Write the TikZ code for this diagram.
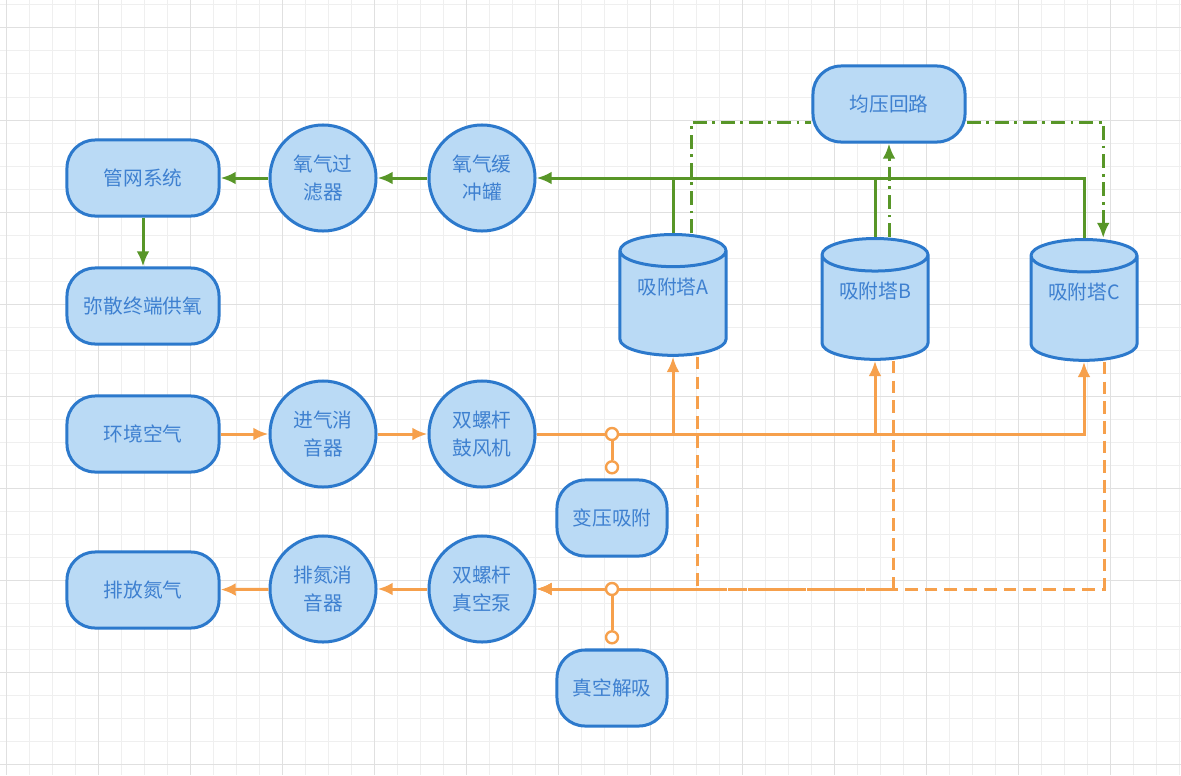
\documentclass[tikz,border=0pt]{standalone}
\usepackage{fontspec}
\setmainfont{Noto Sans CJK SC}
\usetikzlibrary{shapes.geometric,arrows.meta}
\definecolor{boxfill}{RGB}{186,218,245}
\definecolor{boxline}{RGB}{44,121,204}
\definecolor{boxtext}{RGB}{62,128,208}
\definecolor{gasgreen}{RGB}{88,150,40}
\definecolor{airorange}{RGB}{246,160,76}
\definecolor{gridminor}{RGB}{239,239,239}
\definecolor{gridmajor}{RGB}{224,224,224}

\begin{document}
\begin{tikzpicture}[x=0.025cm,y=-0.025cm,>={Latex[length=0.38cm,width=0.32cm]},
  every node/.style={font=\fontsize{14}{20}\selectfont,text=boxtext,align=center},
  proc/.style={draw=boxline,fill=boxfill,line width=0.075cm,rounded corners=0.7cm,minimum width=3.8cm,minimum height=1.9cm},
  drum/.style={draw=boxline,fill=boxfill,line width=0.075cm,circle,minimum size=2.65cm,inner sep=0pt},
  tower/.style={draw=boxline,fill=boxfill,line width=0.075cm,cylinder,shape border rotate=90,aspect=0.4,minimum width=2.65cm,minimum height=3.02cm,text depth=1.05cm,anchor=north},
  gline/.style={draw=gasgreen,line width=0.075cm},
  gdash/.style={gline,dash pattern=on 10pt off 4pt on 2pt off 4pt},
  oline/.style={draw=airorange,line width=0.075cm},
  odash/.style={oline,dash pattern=on 9pt off 5pt},
  tap/.style={circle,draw=airorange,fill=white,line width=0.06cm,minimum size=0.3cm,inner sep=0pt}]
        \useasboundingbox (0,0) rectangle (1181,775);
        \fill[white] (0,0) rectangle (1181,775);
        \foreach \x in {6,29,...,1181} \draw[gridminor,line width=0.025cm] (\x,0) -- (\x,775);
        \foreach \y in {5,28,...,775} \draw[gridminor,line width=0.025cm] (0,\y) -- (1181,\y);
        \foreach \x in {6,98,...,1181} \draw[gridmajor,line width=0.025cm] (\x,0) -- (\x,775);
        \foreach \y in {28,120,...,775} \draw[gridmajor,line width=0.025cm] (0,\y) -- (1181,\y);

        \node[proc] (net) at (143,178) {管网系统};
        \node[proc] (diff) at (143,306) {弥散终端供氧};
        \node[drum] (filt) at (323,178) {氧气过\\滤器};
        \node[drum] (buf) at (482,178) {氧气缓\\冲罐};
        \node[proc] (air) at (143,434) {环境空气};
        \node[drum] (insil) at (323,434) {进气消\\音器};
        \node[drum] (blow) at (482,434) {双螺杆\\鼓风机};
        \node[proc] (vent) at (143,590) {排放氮气};
        \node[drum] (outsil) at (323,589) {排氮消\\音器};
        \node[drum] (pump) at (482,589) {双螺杆\\真空泵};
        \node[proc,minimum width=2.75cm] (psa) at (612,518) {变压吸附};
        \node[proc,minimum width=2.75cm] (vac) at (612,688) {真空解吸};
        \node[proc] (loop) at (889,104) {均压回路};
        \node[tower] (A) at (673,233) {吸附塔A};
        \node[tower] (B) at (875,237) {吸附塔B};
        \node[tower] (C) at (1084,238) {吸附塔C};

        \draw[gline,->] (buf) -- (filt);
        \draw[gline,->] (filt) -- (net);
        \draw[gline,->] (net) -- (diff);
        \draw[gline,->] (C.north) |- (buf);
        \draw[gline] (A.north) -- (A.north |- buf.east);
        \draw[gline] (B.north) -- (B.north |- buf.east);

        \draw[gdash] ([xshift=0.45cm]A.north) |- ([yshift=-0.45cm]loop.west);
        \coordinate (bq) at ([xshift=0.35cm]B.north);
        \draw[gdash,->] (bq) -- (bq |- loop.south);
        \draw[gdash,->] ([yshift=-0.45cm]loop.east) -| ([xshift=0.48cm]C.north);

        \draw[oline,->] (air) -- (insil);
        \draw[oline,->] (insil) -- (blow);
        \draw[oline,->] (blow) -| (C.south);
        \draw[oline,->] (A.south |- blow.east) -- (A.south);
        \draw[oline,->] (B.south |- blow.east) -- (B.south);

        \draw[odash,->] ([xshift=0.6cm]A.south) |- (pump);
        \draw[odash,->] ([xshift=0.45cm]B.south) |- (pump);
        \draw[odash,->] ([xshift=0.5cm]C.south) |- (pump);
        \draw[oline,->] (pump) -- (outsil);
        \draw[oline,->] (outsil) -- (vent);

        \node[tap] (t1) at (psa |- blow.east) {};
        \node[tap,anchor=south] (t2) at ([yshift=0.1cm]psa.north) {};
        \draw[oline] (t1) -- (t2);
        \node[tap] (t3) at (vac |- pump.east) {};
        \node[tap,anchor=south] (t4) at ([yshift=0.1cm]vac.north) {};
        \draw[oline] (t3) -- (t4);
\end{tikzpicture}
\end{document}
